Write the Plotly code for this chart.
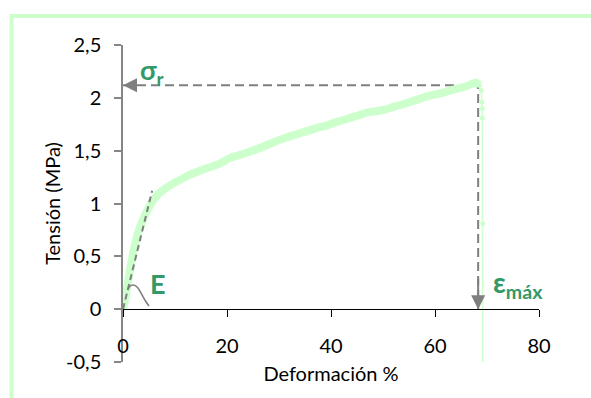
import plotly.graph_objects as go

# Stress-strain test curve (deformation %, stress MPa)
strain = [0, 0.5, 1.0, 1.5, 2.0, 2.5, 3.0, 4.0, 5.0, 6.0, 7.0, 8.4, 10.0, 11.6,
          12.3, 14.8, 16.5, 18.7, 20.5, 22.5, 23.8, 25.5, 27.0, 29.0, 30.8, 33.0,
          35.0, 37.0, 39.2, 41.0, 43.0, 45.0, 47.2, 49.0, 50.5, 52.0, 53.9, 55.5,
          57.0, 59.0, 61.6, 63.0, 64.5, 66.0, 67.0, 67.8, 68.5]
stress = [0, 0.12, 0.27, 0.41, 0.55, 0.65, 0.74, 0.865, 0.965, 1.045, 1.10, 1.15,
          1.20, 1.24, 1.26, 1.31, 1.34, 1.38, 1.43, 1.46, 1.48, 1.51, 1.54, 1.58,
          1.615, 1.65, 1.68, 1.71, 1.74, 1.77, 1.80, 1.83, 1.865, 1.875, 1.89,
          1.915, 1.94, 1.965, 1.99, 2.02, 2.05, 2.07, 2.09, 2.11, 2.13, 2.146, 2.12]

# Rupture: the specimen breaks and the load falls off
break_strain = [68.5, 68.9, 69.0, 69.1, 69.1, 69.2, 69.2]
break_stress = [2.12, 2.07, 1.96, 1.90, 1.81, 0.81, -0.6]

# Tangent of the initial linear zone (elastic modulus E)
tangent_strain = [0, 5.6]
tangent_stress = [0, 1.12]

# Small arc marking the modulus angle
arc_strain = [0.9, 1.3, 2.0, 2.8, 3.6, 4.3, 5.0]
arc_stress = [0.18, 0.215, 0.228, 0.205, 0.14, 0.08, 0.03]

sigma_r = 2.12     # tensile strength, MPa
eps_max = 68.3     # strain at break, %

x_ticks = [0, 20, 40, 60, 80]
y_ticks = [-0.5, 0, 0.5, 1, 1.5, 2, 2.5]
y_ticktext = ["-0,5", "0", "0,5", "1", "1,5", "2", "2,5"]

CURVE = "#ccffcc"
GREY = "#7f7f7f"
GREEN = "#339966"
FONT = "Lato"

fig = go.Figure()

# Dashed guides from the peak to both axes
fig.add_trace(go.Scatter(x=[0, eps_max, eps_max], y=[sigma_r, sigma_r, 0],
                         mode="lines", line=dict(color=GREY, width=2, dash="9px,5px"),
                         hoverinfo="skip"))
fig.add_trace(go.Scatter(x=strain, y=stress, mode="lines",
                         line=dict(color=CURVE, width=8, shape="spline", smoothing=0.6)))
fig.add_trace(go.Scatter(x=break_strain, y=break_stress, mode="lines+markers",
                         line=dict(color=CURVE, width=1.5),
                         marker=dict(color=CURVE, size=5)))
fig.add_trace(go.Scatter(x=tangent_strain, y=tangent_stress, mode="lines",
                         line=dict(color=GREY, width=2, dash="6px,4px")))
fig.add_trace(go.Scatter(x=arc_strain, y=arc_stress, mode="lines",
                         line=dict(color=GREY, width=1.6, shape="spline")))

# Arrow heads where the guides meet the axes
fig.add_annotation(x=0, y=sigma_r, ax=3, ay=sigma_r, xref="x", yref="y",
                   axref="x", ayref="y", text="", showarrow=True, arrowhead=2,
                   arrowsize=1.4, arrowwidth=2, arrowcolor=GREY, standoff=0)
fig.add_annotation(x=eps_max, y=0, ax=eps_max, ay=0.3, xref="x", yref="y",
                   axref="x", ayref="y", text="", showarrow=True, arrowhead=2,
                   arrowsize=1.4, arrowwidth=2, arrowcolor=GREY, standoff=0)

# Labels
fig.add_annotation(x=2.9, y=2.25, text="<b>σ<sub>r</sub></b>", showarrow=False,
                   xanchor="left", yanchor="middle",
                   font=dict(family=FONT, size=27, color=GREEN))
fig.add_annotation(x=6.7, y=0.245, text="<b>E</b>", showarrow=False,
                   xanchor="center", yanchor="middle",
                   font=dict(family=FONT, size=27, color=GREEN))
fig.add_annotation(x=70.8, y=0.235, text="<b>ε<sub>máx</sub></b>", showarrow=False,
                   xanchor="left", yanchor="middle",
                   font=dict(family=FONT, size=28, color=GREEN))

# Chart-area border
fig.add_shape(type="rect", xref="paper", yref="paper",
              x0=-0.268, x1=1.2, y0=-0.2, y1=1.0915,
              line=dict(color=CURVE, width=4), layer="below")

fig.update_layout(
    width=591, height=398,
    margin=dict(l=123, r=52, t=45, b=36, autoexpand=False),
    paper_bgcolor="white", plot_bgcolor="white",
    showlegend=False,
    font=dict(family=FONT, size=20, color="black"),
    xaxis=dict(range=[0, 80], tickvals=x_ticks, anchor="free", position=1 / 6,
               showline=True, linecolor="black", linewidth=1.3,
               ticks="outside", ticklen=7, tickcolor="black", tickwidth=1.3,
               ticklabelstandoff=12, showgrid=False, zeroline=False,
               title=dict(text="Deformación %", standoff=10,
                          font=dict(family=FONT, size=20))),
    yaxis=dict(range=[-0.5, 2.5], tickvals=y_ticks, ticktext=y_ticktext,
               showline=True, linecolor="#868686", linewidth=1.5,
               ticks="outside", ticklen=7, tickcolor="#868686", tickwidth=1.5,
               ticklabelstandoff=9, showgrid=False, zeroline=False,
               title=dict(text="Tensión (MPa)", standoff=0,
                          font=dict(family=FONT, size=20))),
)

fig.write_html("out.html")
